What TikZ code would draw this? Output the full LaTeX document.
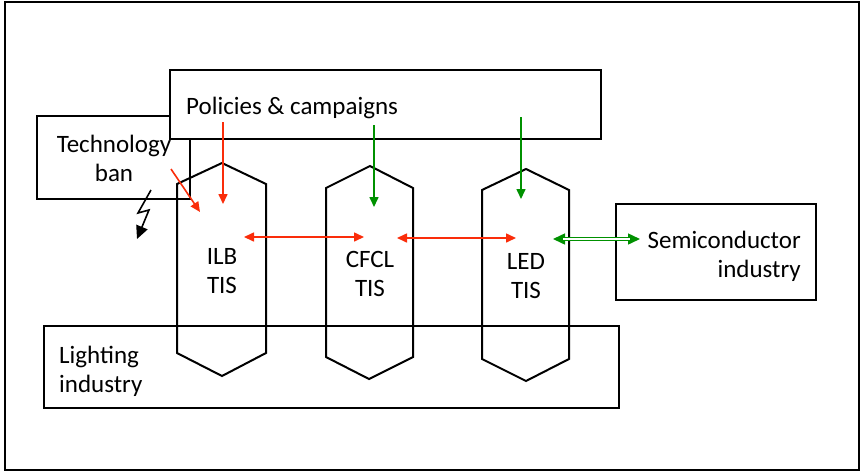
\documentclass[tikz,border=0pt]{standalone}
\usepackage{fontspec}
\setmainfont{Carlito}
\usetikzlibrary{arrows.meta}
\definecolor{redarr}{RGB}{250,45,10}
\definecolor{greenarr}{RGB}{0,145,0}
\tikzset{
  frame/.style={draw=black, line width=1.5pt},
  boxline/.style={draw=black, line width=2pt},
  hexline/.style={draw=black, line width=2pt, line join=miter},
  lbl/.style={inner sep=0pt, font=\fontsize{25}{29}\selectfont},
  redflow/.style={draw=redarr, line width=1.6pt, -{Triangle[length=10pt,width=9pt]}},
  redboth/.style={draw=redarr, line width=1.6pt, {Triangle[length=10pt,width=9pt]}-{Triangle[length=10pt,width=9pt]}},
  greenflow/.style={draw=greenarr, line width=1.6pt, -{Triangle[length=10pt,width=9pt]}},
}
\begin{document}
\begin{tikzpicture}[x=1pt,y=-1pt]
\useasboundingbox (0,0) rectangle (860,472);
\draw[frame] (5,2) rectangle (859,470);

% Technology ban box (below policies box)
\draw[boxline] (37,116) rectangle (190,199);
\node[lbl, align=center] (ban) at (114,158) {Technology\\ban};

% Policies box, filled white, covers part of technology ban box
\draw[boxline, fill=white] (170,70) rectangle (601,139);
\node[lbl, anchor=base west] (pol) at (186,114) {Policies \& campaigns};

% Lighting industry box
\draw[boxline] (44,326) rectangle (619,408);
\node[lbl, align=left, anchor=west] (light) at (59,371) {Lighting\\industry};

% Semiconductor industry box
\draw[boxline] (616,204) rectangle (816,300);
\node[lbl, align=right, anchor=east] (semi) at (801,256) {Semiconductor\\industry};

% Hexagons (TIS)
\draw[hexline] (177,184) -- (222,163) -- (266,184) -- (266,353) -- (222,376) -- (177,353) -- cycle;
\draw[hexline] (326,188) -- (370,166) -- (413,188) -- (413,357) -- (369,379) -- (326,357) -- cycle;
\draw[hexline] (482,190) -- (526,169) -- (569,190) -- (569,359) -- (526,381) -- (482,359) -- cycle;
\node[lbl, align=center] (ilb) at (222,271) {ILB\\TIS};
\node[lbl, align=center] (cfcl) at (370,274) {CFCL\\TIS};
\node[lbl, align=center] (led) at (526,276) {LED\\TIS};

% arrow end points
\coordinate (pA) at (223,122);
\coordinate (ilbTop) at (223,204);
\coordinate (pB) at (374,125);
\coordinate (cfclTop) at (374,207);
\coordinate (pC) at (521,117);
\coordinate (ledTop) at (521,199);
\coordinate (banOut) at (171,169);
\coordinate (ilbBan) at (200,212);
\coordinate (ilbR) at (244,237);
\coordinate (cfclL) at (364,237);
\coordinate (cfclR) at (397,238);
\coordinate (ledL) at (516,238);
\coordinate (ledR) at (553,239);
\coordinate (semiL) at (640,239);
\coordinate (b1) at (151,190);
\coordinate (b2) at (138,213);
\coordinate (b3) at (149,210);
\coordinate (b4) at (137,239);

\draw[redflow] (pA) -- (ilbTop);
\draw[redflow] (banOut) -- (ilbBan);
\draw[greenflow] (pB) -- (cfclTop);
\draw[greenflow] (pC) -- (ledTop);
\draw[redboth] (ilbR) -- (cfclL);
\draw[redboth] (cfclR) -- (ledL);

% double green arrow
\draw[draw=greenarr, line width=1.5pt, {Triangle[length=12pt,width=11pt]}-{Triangle[length=12pt,width=11pt]}] (ledR) -- (semiL);
\draw[draw=greenarr, line width=1.5pt, double=white, double distance=1.6pt, shorten <=10pt, shorten >=10pt] (ledR) -- (semiL);

% lightning bolt
\draw[line width=1.6pt, line join=miter, -{Triangle[length=13pt,width=12pt]}] (b1) -- (b2) -- (b3) -- (b4);
\end{tikzpicture}
\end{document}
